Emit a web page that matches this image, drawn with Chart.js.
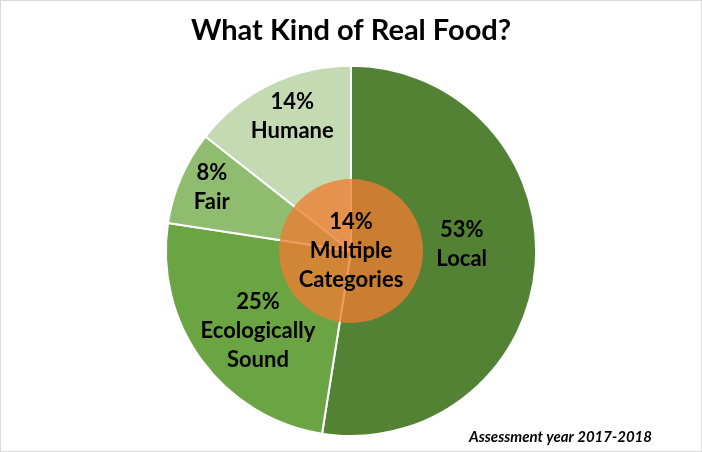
<!DOCTYPE html>
<html lang="en">
  <head>
    <meta charset="UTF-8" />
    <title>What Kind of Real Food?</title>
    <script src="https://cdn.jsdelivr.net/npm/chart.js"></script>
    <style>
      body { margin: 0; background: #fff; }
      .quadro {
        position: relative;
        width: 700px;
        height: 450px;
        border: 1px solid #d9d9d9;
      }
      .quadro canvas { position: absolute; left: 0; top: 0; }
    </style>
  </head>
  <body>
    <div class="quadro">
      <canvas id="pizza" width="700" height="450"></canvas>
      <canvas id="multiplas" width="700" height="450"></canvas>
    </div>
  </body>
</html>
<script>
  const categorias = ["Local", ["Ecologically", "Sound"], "Fair", "Humane"];
  const percentuais = [52.5, 24.9, 8.2, 14.4];
  const cores = ["#548235", "#6aa443", "#8fbc6e", "#c3dab3"];

  const categoriaCentro = [["Multiple", "Categories"]];
  const percentualCentro = [14];

  const fonte = "Lato, 'Open Sans', sans-serif";

  // escreve "xx%" + nome dentro de cada fatia
  const rotulos = {
    id: "rotulos",
    afterDatasetsDraw(chart, args, opts) {
      const ctx = chart.ctx;
      const meta = chart.getDatasetMeta(0);
      const ds = chart.data.datasets[0];
      ctx.save();
      ctx.font = "bold 22px " + fonte;
      ctx.fillStyle = "#000";
      ctx.textAlign = "center";
      ctx.textBaseline = "middle";
      meta.data.forEach((arc, i) => {
        const meio = (arc.startAngle + arc.endAngle) / 2;
        const r = opts.distancia[i] * 185;
        const ajuste = opts.ajuste ? opts.ajuste[i] : [0, 0];
        const x = arc.x + Math.cos(meio) * r + ajuste[0];
        const y = arc.y + Math.sin(meio) * r + ajuste[1];
        const linhas = [Math.round(ds.data[i]) + "%"].concat(chart.data.labels[i]);
        const alt = 29;
        linhas.forEach((l, j) => {
          ctx.fillText(l, x, y + (j - (linhas.length - 1) / 2) * alt);
        });
      });
      ctx.restore();
    },
  };

  const rodape = {
    id: "rodape",
    afterDraw(chart) {
      const ctx = chart.ctx;
      ctx.save();
      ctx.font = "italic bold 15px " + fonte;
      ctx.fillStyle = "#000";
      ctx.textAlign = "right";
      ctx.textBaseline = "middle";
      ctx.fillText("Assessment year 2017-2018", 651, 436);
      ctx.restore();
    },
  };

  const grafico1 = document.getElementById("pizza");
  let pizza = new Chart(grafico1, {
    type: "pie",
    data: {
      labels: categorias,
      datasets: [
        {
          data: percentuais,
          backgroundColor: cores,
          borderColor: "#ffffff",
          borderWidth: 2,
        },
      ],
    },
    options: {
      responsive: false,
      animation: false,
      layout: { padding: { top: 0, bottom: 14, left: 0, right: 0 } },
      plugins: {
        legend: { display: false },
        tooltip: { enabled: false },
        title: {
          display: true,
          text: "What Kind of Real Food?",
          color: "#000",
          font: { family: fonte, size: 29, weight: "bold" },
          padding: { top: 12, bottom: 17 },
        },
        rotulos: {
          distancia: [0.6, 0.65, 0.82, 0.8],
          ajuste: [[0, -15], [4, 9], [0, -3], [6, -1]],
        },
      },
    },
    plugins: [rotulos, rodape],
  });

  const grafico2 = document.getElementById("multiplas");
  let multiplas = new Chart(grafico2, {
    type: "pie",
    data: {
      labels: categoriaCentro,
      datasets: [
        {
          data: percentualCentro,
          backgroundColor: "rgba(237, 125, 49, 0.78)",
          borderWidth: 0,
        },
      ],
    },
    options: {
      responsive: false,
      animation: false,
      radius: 72,
      layout: { padding: { top: 64, bottom: 14 } },
      plugins: {
        legend: { display: false },
        tooltip: { enabled: false },
        rotulos: { distancia: [0] },
      },
    },
    plugins: [rotulos],
  });
</script>
